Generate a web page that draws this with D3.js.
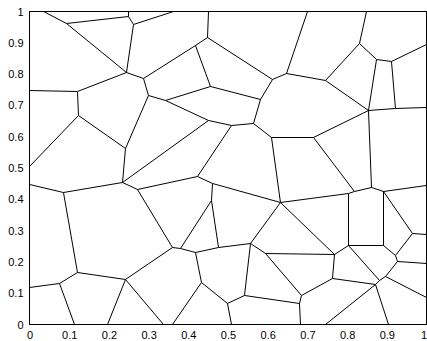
<!DOCTYPE html>
<html>
<head>
<meta charset="utf-8">
<script src="https://cdn.jsdelivr.net/npm/d3@7"></script>
<style>
html,body{margin:0;padding:0;background:#fff;}
svg{display:block;}
text{font-family:"Liberation Sans",Arial,sans-serif;font-size:11px;fill:#000;}
</style>
</head>
<body>
<svg id="chart" width="427" height="341"></svg>
<script>
// Voronoi vertices (data units)
const vertices = [
  ["A",0.0932,0.9617],["B",0.2494,0.9840],["C",0.2620,0.9585],["D",0.2443,0.8051],
  ["E",0.2872,0.7859],["F",0.1209,0.7444],["G",0.1234,0.6677],["H",0.2418,0.5623],
  ["M",0.2997,0.7316],["L",0.3426,0.7157],["J",0.4181,0.8914],["K",0.4559,0.7604],
  ["I",0.4484,0.9169],["O",0.6121,0.7827],["N",0.5819,0.7188],["P",0.6474,0.8019],
  ["Q",0.7456,0.7796],["R",0.8312,0.8978],["S",0.8741,0.8466],["T",0.9118,0.8403],
  ["U",0.8539,0.6837],["V",0.9219,0.6901],["W",0.7154,0.5974],["X",0.8615,0.4377],
  ["Y",0.8186,0.4249],["Z",0.8035,0.4185],["AA",0.8917,0.4249],["BA",0.4509,0.6518],
  ["BB",0.5088,0.6358],["BC",0.5642,0.6422],["BD",0.6096,0.5974],["BE",0.6322,0.3898],
  ["BF",0.4610,0.4505],["BG",0.4232,0.4728],["HH",0.2343,0.4537],["CA",0.0856,0.4217],
  ["CB",0.2720,0.4313],["DA",0.1209,0.1661],["DB",0.0756,0.1310],["DC",0.2418,0.1438],
  ["EA",0.3602,0.2460],["EB",0.3804,0.2428],["EC",0.4181,0.2300],["ED",0.4761,0.2460],
  ["EE",0.5567,0.2588],["EF",0.5945,0.2268],["EG",0.5416,0.0927],["EH",0.4987,0.0671],
  ["EI",0.4332,0.1342],["FA",0.4584,0.3962],["GA",0.7683,0.2236],["GB",0.8035,0.2524],
  ["GC",0.8917,0.2524],["GD",0.9219,0.2204],["GE",0.9270,0.2013],["GF",0.9647,0.2907],
  ["GH",0.8967,0.1534],["GI2",0.8816,0.1406],["GI1",0.8715,0.1278],["GJ",0.7632,0.1470],
  ["GK2",0.6851,0.0927],["GK1",0.6801,0.0671],
  // where edges leave the axes box
  ["t1",0.0353,1],["t2",0.2494,1],["t3",0.3627,1],["t4",0.4509,1],["t5",0.7003,1],["t6",0.8489,1],
  ["l1",0,0.7476],["l2",0,0.5048],["l3",0,0.4473],["l4",0,0.1182],
  ["b1",0.1134,0],["b2",0.1965,0],["b3",0.3375,0],["b4",0.3602,0],["b5",0.5088,0],["b6",0.6826,0],["b7",0.7456,0],["b8",0.9043,0],
  ["r1",1,0.8946],["r2",1,0.6933],["r3",1,0.4441],["r4",1,0.2875],["r5",1,0.1949],["r6",1,0.0863]
];
const edges = [
  ["A","t1"],["A","B"],["B","t2"],["B","C"],["C","t3"],["C","D"],["A","D"],["D","E"],["D","F"],
  ["F","l1"],["F","G"],["G","l2"],["G","H"],["E","M"],["E","J"],["M","L"],["M","H"],["J","I"],
  ["I","t4"],["J","K"],["K","L"],["K","N"],["I","O"],["O","N"],["O","P"],["P","t5"],["P","Q"],
  ["Q","R"],["R","t6"],["R","S"],["S","T"],["T","r1"],["S","U"],["T","V"],["V","r2"],["U","V"],
  ["Q","U"],["U","W"],["U","X"],["W","BD"],["W","Y"],["Y","X"],["Y","Z"],["X","AA"],["AA","r3"],
  ["AA","GC"],["AA","GF"],["GF","r4"],["GF","GD"],["GC","GD"],["GD","GE"],["GE","r5"],["GE","GH"],
  ["GH","r6"],["GH","GI2"],["GI2","GB"],["GI2","GI1"],["GI1","GJ"],["GI1","b7"],["GI1","b8"],
  ["L","BA"],["BA","BB"],["BB","BC"],["BC","N"],["BC","BD"],["BD","BE"],["BE","Z"],["BE","BF"],
  ["BE","EE"],["BE","GA"],["BB","BG"],["BG","BF"],["BF","FA"],["BG","CB"],["BA","HH"],["H","HH"],
  ["HH","CA"],["HH","CB"],["CA","l3"],["CA","DA"],["DA","DB"],["DB","l4"],["DB","b1"],["DA","DC"],
  ["DC","EA"],["DC","b2"],["DC","b3"],["CB","EA"],["EA","EB"],["EB","EC"],["EB","FA"],["FA","ED"],
  ["EC","ED"],["ED","EE"],["EC","EI"],["EI","b4"],["EI","EH"],["EH","b5"],["EH","EG"],["EG","EE"],
  ["EE","EF"],["EF","GA"],["EF","GK2"],["GK2","GJ"],["GK2","GK1"],["GK1","EG"],["GK1","b6"],
  ["GJ","GA"],["GA","GB"],["GB","Z"],["GB","GC"]
];
const xTicks = [0,0.1,0.2,0.3,0.4,0.5,0.6,0.7,0.8,0.9,1];
const yTicks = [0,0.1,0.2,0.3,0.4,0.5,0.6,0.7,0.8,0.9,1];
const xTickLabels = ["0","0.1","0.2","0.3","0.4","0.5","0.6","0.7","0.8","0.9","1"];
const yTickLabels = ["0","0.1","0.2","0.3","0.4","0.5","0.6","0.7","0.8","0.9","1"];

const svg = d3.select("#chart");
const x = d3.scaleLinear().domain([0,1]).range([29.5,426.5]);
const y = d3.scaleLinear().domain([0,1]).range([324.5,11.5]);

const vmap = new Map(vertices.map(v => [v[0], v]));

svg.append("g")
  .selectAll("line")
  .data(edges)
  .join("line")
  .attr("x1", d => x(vmap.get(d[0])[1]))
  .attr("y1", d => y(vmap.get(d[0])[2]))
  .attr("x2", d => x(vmap.get(d[1])[1]))
  .attr("y2", d => y(vmap.get(d[1])[2]))
  .attr("stroke", "#000")
  .attr("stroke-width", 1);

// box
svg.append("rect")
  .attr("x", x(0)).attr("y", y(1))
  .attr("width", x(1)-x(0)).attr("height", y(0)-y(1))
  .attr("fill", "none").attr("stroke", "#000").attr("stroke-width", 1);

const xAxis = d3.axisBottom(x).tickValues(xTicks).tickSize(0).tickPadding(7)
  .tickFormat((d,i) => xTickLabels[i]);
svg.append("g").attr("transform", `translate(0,${y(0)})`).call(xAxis)
  .call(g => g.select(".domain").remove())
  .selectAll("text")
  .attr("font-family", "Liberation Sans, Arial, sans-serif").attr("font-size", 11)
  .attr("dx", (d,i) => i === xTicks.length - 1 ? -3 : 0);

const yAxis = d3.axisLeft(y).tickValues(yTicks).tickSize(0).tickPadding(6)
  .tickFormat((d,i) => yTickLabels[i]);
svg.append("g").attr("transform", `translate(${x(0)},0)`).call(yAxis)
  .call(g => g.select(".domain").remove())
  .selectAll("text").attr("font-family", "Liberation Sans, Arial, sans-serif").attr("font-size", 11);
</script>
</body>
</html>
